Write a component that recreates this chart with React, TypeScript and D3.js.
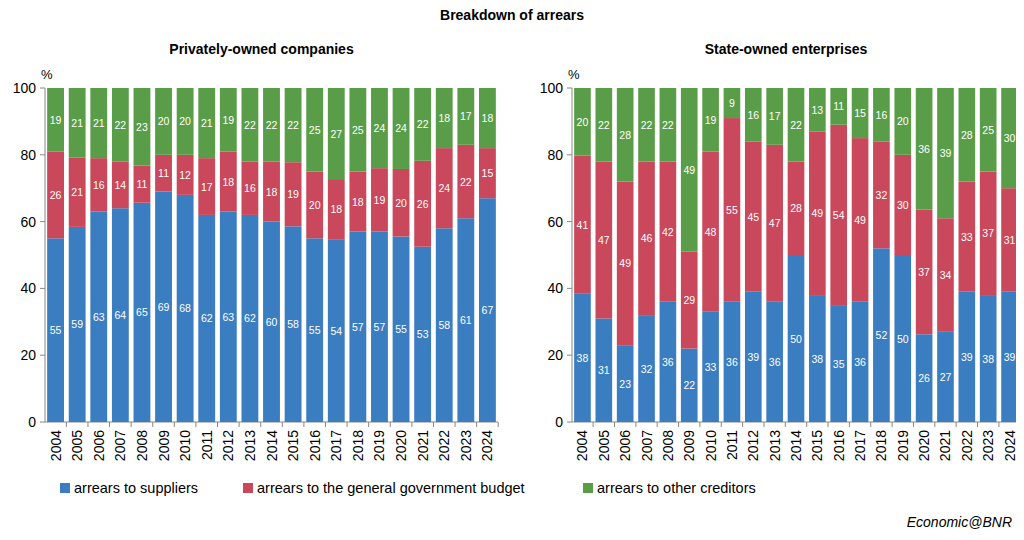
import React from 'react';
import * as d3 from 'd3';

const years = ['2004','2005','2006','2007','2008','2009','2010','2011','2012','2013','2014','2015','2016','2017','2018','2019','2020','2021','2022','2023','2024'];

const privSuppliers = [55,59,63,64,65,69,68,62,63,62,60,58,55,54,57,57,55,53,58,61,67];
const privBudget = [26,21,16,14,11,11,12,17,18,16,18,19,20,18,18,19,20,26,24,22,15];
const privOther = [19,21,21,22,23,20,20,21,19,22,22,22,25,27,25,24,24,22,18,17,18];

const soeSuppliers = [38,31,23,32,36,22,33,36,39,36,50,38,35,36,52,50,26,27,39,38,39];
const soeBudget = [41,47,49,46,42,29,48,55,45,47,28,49,54,49,32,30,37,34,33,37,31];
const soeOther = [20,22,28,22,22,49,19,9,16,17,22,13,11,15,16,20,36,39,28,25,30];

const yTicks = [0,20,40,60,80,100];
const seriesNames = ['arrears to suppliers','arrears to the general government budget','arrears to other creditors'];
const colors = ['#3a7dc1','#c9485b','#5a9d48'];

const font = '"Liberation Sans", Arial, sans-serif';
const top = 88, bottom = 422;

function Panel({ x0, x1, title, series }: { x0: number; x1: number; title: string; series: number[][] }) {
  const x = d3.scaleBand().domain(years).range([x0, x1]).paddingInner(0.22).paddingOuter(0.1);
  const y = d3.scaleLinear().domain([0, 100]).range([bottom, top]);
  return (
    <g fontFamily={font}>
      <text x={(x0 + x1) / 2 - 10} y={54} textAnchor="middle" fontWeight="bold" fontSize={14}>{title}</text>
      <text x={x0 - 4} y={79} fontSize={13}>%</text>
      <line x1={x0} x2={x0} y1={top} y2={bottom} stroke="#888" />
      <line x1={x0} x2={x1} y1={bottom} y2={bottom} stroke="#888" />
      {yTicks.map(t => (
        <g key={t}>
          <line x1={x0 - 5} x2={x0} y1={y(t)} y2={y(t)} stroke="#888" />
          <text x={x0 - 9} y={y(t) + 5} textAnchor="end" fontSize={14}>{t}</text>
        </g>
      ))}
      {years.map((yr, i) => {
        const total = d3.sum(series, s => s[i]);
        let acc = 0;
        const bx = x(yr)!;
        const cx = bx + x.bandwidth() / 2;
        return (
          <g key={yr}>
            {series.map((s, k) => {
              const v = s[i];
              const share = (v / total) * 100;
              const y0 = y(acc), y1 = y(acc + share);
              acc += share;
              return (
                <g key={k}>
                  <rect x={bx} y={y1} width={x.bandwidth()} height={y0 - y1} fill={colors[k]} />
                  <text x={cx} y={(y0 + y1) / 2 + 4} textAnchor="middle" fontSize={10.5} fill="#fff">{v}</text>
                </g>
              );
            })}
            <line x1={bx + x.step() - (x.step() - x.bandwidth()) / 2} x2={bx + x.step() - (x.step() - x.bandwidth()) / 2} y1={bottom} y2={bottom + 5} stroke="#888" />
            <text transform={`translate(${cx + 5},${bottom + 8}) rotate(-90)`} textAnchor="end" fontSize={14}>{yr}</text>
          </g>
        );
      })}
    </g>
  );
}

export default function App() {
  const legendX = [60, 243, 583];
  return (
    <svg width={1024} height={540} style={{ display: 'block', margin: -8 }}>
      <rect width={1024} height={540} fill="#fff" />
      <text x={512} y={20} textAnchor="middle" fontWeight="bold" fontSize={14} fontFamily={font}>Breakdown of arrears</text>
      <Panel x0={45} x1={498} title="Privately-owned companies" series={[privSuppliers, privBudget, privOther]} />
      <Panel x0={572} x1={1020} title="State-owned enterprises" series={[soeSuppliers, soeBudget, soeOther]} />
      {seriesNames.map((n, k) => (
        <g key={n} fontFamily={font}>
          <rect x={legendX[k]} y={483} width={10} height={10} fill={colors[k]} />
          <text x={legendX[k] + 14} y={493} fontSize={14.5}>{n}</text>
        </g>
      ))}
      <text x={1012} y={527} textAnchor="end" fontStyle="italic" fontSize={14} fontFamily={font}>Economic@BNR</text>
    </svg>
  );
}
